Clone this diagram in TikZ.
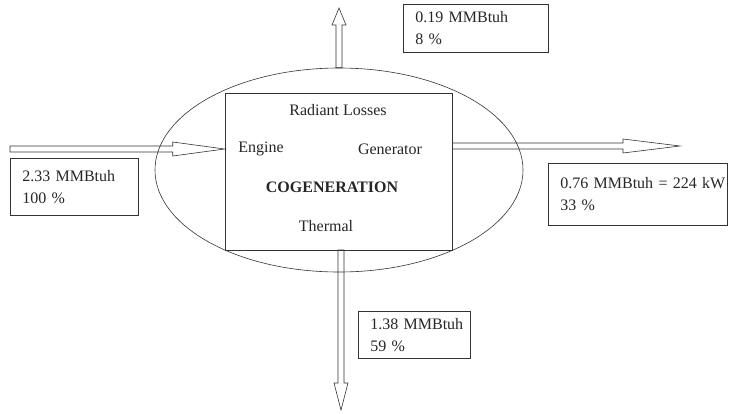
\documentclass[tikz,border=0pt]{standalone}
\usepackage{fontspec}
\setmainfont{Liberation Serif}
\usetikzlibrary{calc,shapes.geometric}

\newcommand\flowarrow[3]{% from, to, head length
  \draw[flow] let \p1=(#1), \p2=(#2), \n1={atan2(\y2-\y1,\x2-\x1)}, \n2={veclen(\x2-\x1,\y2-\y1)} in
    [shift={(\p1)}, rotate=\n1] (0pt,-3pt) -- ({(\n2-#3)*1pt},-3pt) -- ({(\n2-#3)*1pt},-7pt)
    -- ({\n2*1pt},0pt) -- ({(\n2-#3)*1pt},7pt) -- ({(\n2-#3)*1pt},3pt) -- (0pt,3pt) -- cycle;}

\begin{document}
\begin{tikzpicture}[x=1pt, y=-1pt, line width=0.6pt, draw=black!80, text=black!85,
    font=\fontsize{16}{22}\selectfont,
    flow/.style={draw=black!80, line join=miter},
    valbox/.style={draw, align=left, anchor=north west, inner xsep=12pt, inner ysep=0pt}]

  \useasboundingbox (0,0) rectangle (730,413);

  \node[draw, ellipse, minimum width=368, minimum height=204, inner sep=0pt] (shell) at (339,170) {};
  \node[draw, minimum width=227, minimum height=157, inner sep=0pt] (cogen) at (338.5,171.5) {};

  \node (losses) at (338,110) {Radiant Losses};
  \node (engine) at (261,149) {Engine};
  \node (gen)    at (390,149) {Generator};
  \node[font=\fontsize{16}{22}\selectfont\bfseries] (title) at (332,187) {COGENERATION};
  \node (thermal) at (326,226) {Thermal};

  % flows in and out
  \coordinate (inStart) at (10,149);
  \coordinate (inEnd) at (cogen.west |- inStart);
  \coordinate (topTip) at (339,8);
  \coordinate (outTip) at (680,146);
  \coordinate (outStart) at (cogen.east |- outTip);
  \coordinate (downStart) at (341,250);
  \coordinate (downTip) at (341,410);

  \flowarrow{inStart}{inEnd}{52}
  \flowarrow{shell.north}{topTip}{17}
  \flowarrow{outStart}{outTip}{57}
  \flowarrow{downStart}{downTip}{27}

  % values
  \node[valbox, text width=104, minimum height=57] (inBox) at (10,158) {\mbox{2.33 MMBtuh}\\100 \%};
  \node[valbox, text width=121, minimum height=48] (lossBox) at (403,4) {\mbox{0.19 MMBtuh}\\8 \%};
  \node[valbox, text width=155, minimum height=62] (powerBox) at (548,163) {\mbox{0.76 MMBtuh = 224 kW}\\33 \%};
  \node[valbox, text width=88, minimum height=47] (heatBox) at (358,311) {\mbox{1.38 MMBtuh}\\59 \%};
\end{tikzpicture}
\end{document}
